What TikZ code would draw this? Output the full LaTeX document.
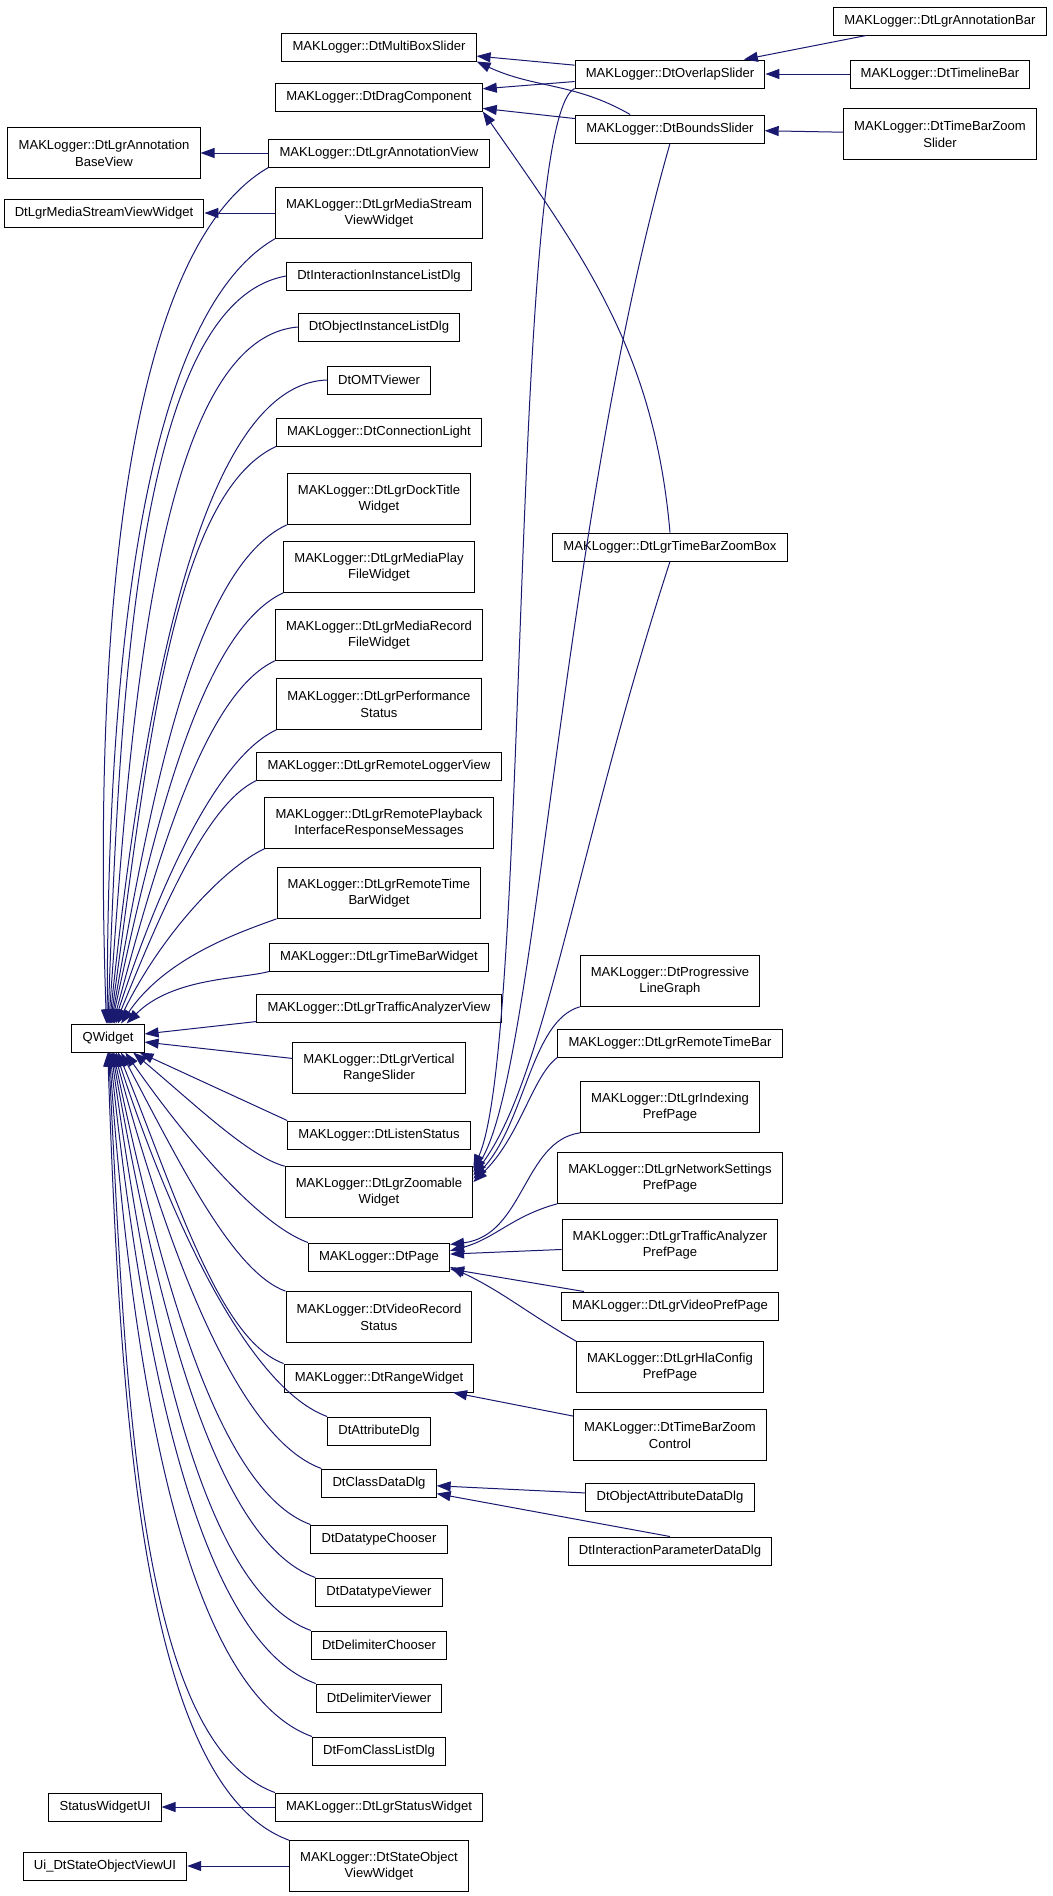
\documentclass[tikz,border=0pt]{standalone}
\usepackage{fontspec}
\setmainfont{Liberation Sans}
\usepackage{tikz}
\usetikzlibrary{arrows.meta}
\definecolor{midblue}{HTML}{191970}
\tikzstyle{cls} = [draw=black, fill=white, rectangle, line width=0.75pt, inner xsep=8pt, inner ysep=2pt, minimum height=21pt, align=center, font=\fontsize{9.8pt}{12.5pt}\selectfont]
\tikzstyle{cls2} = [cls, minimum height=38pt]
\tikzstyle{inh} = [draw=midblue, line width=0.75pt, -{Triangle[length=10.5pt,width=7.5pt]}]
\tikzstyle{fan} = [out looseness=0.5, in looseness=1.1]

\begin{document}
\begin{tikzpicture}[x=0.75pt,y=-0.75pt]
                        \useasboundingbox (0,0) rectangle (1053,1896);

                        \node[cls2] (ABV) at (104,153) {MAKLogger::DtLgrAnnotation\\BaseView};
                        \node[cls] (MSVW) at (104,213) {DtLgrMediaStreamViewWidget};
                        \node[cls] (QW) at (108,1038) {QWidget};
                        \node[cls] (SWUI) at (105,1807) {StatusWidgetUI};
                        \node[cls] (UIDT) at (105,1866) {Ui\_DtStateObjectViewUI};

                        \node[cls] (MBS) at (379,47) {MAKLogger::DtMultiBoxSlider};
                        \node[cls] (DC) at (379,97) {MAKLogger::DtDragComponent};
                        \node[cls] (AV) at (379,153) {MAKLogger::DtLgrAnnotationView};
                        \node[cls2] (MSV) at (379,213) {MAKLogger::DtLgrMediaStream\\ViewWidget};
                        \node[cls] (IIL) at (379,276) {DtInteractionInstanceListDlg};
                        \node[cls] (OIL) at (379,327) {DtObjectInstanceListDlg};
                        \node[cls] (OMT) at (379,380) {DtOMTViewer};
                        \node[cls] (CL) at (379,432) {MAKLogger::DtConnectionLight};
                        \node[cls2] (DTW) at (379,499) {MAKLogger::DtLgrDockTitle\\Widget};
                        \node[cls2] (MPF) at (379,567) {MAKLogger::DtLgrMediaPlay\\FileWidget};
                        \node[cls2] (MRF) at (379,635) {MAKLogger::DtLgrMediaRecord\\FileWidget};
                        \node[cls2] (PS) at (379,704) {MAKLogger::DtLgrPerformance\\Status};
                        \node[cls] (RLV) at (379,766) {MAKLogger::DtLgrRemoteLoggerView};
                        \node[cls2] (RPI) at (379,823) {MAKLogger::DtLgrRemotePlayback\\InterfaceResponseMessages};
                        \node[cls2] (RTBW) at (379,893) {MAKLogger::DtLgrRemoteTime\\BarWidget};
                        \node[cls] (TBW) at (379,957) {MAKLogger::DtLgrTimeBarWidget};
                        \node[cls] (TAV) at (379,1008) {MAKLogger::DtLgrTrafficAnalyzerView};
                        \node[cls2] (VRS) at (379,1068) {MAKLogger::DtLgrVertical\\RangeSlider};
                        \node[cls] (LS) at (379,1135) {MAKLogger::DtListenStatus};
                        \node[cls2] (ZW) at (379,1192) {MAKLogger::DtLgrZoomable\\Widget};
                        \node[cls] (PG) at (379,1257) {MAKLogger::DtPage};
                        \node[cls2] (VRC) at (379,1317) {MAKLogger::DtVideoRecord\\Status};
                        \node[cls] (RW) at (379,1378) {MAKLogger::DtRangeWidget};
                        \node[cls] (AD) at (379,1431) {DtAttributeDlg};
                        \node[cls] (CDD) at (379,1483) {DtClassDataDlg};
                        \node[cls] (DTC) at (379,1539) {DtDatatypeChooser};
                        \node[cls] (DTV) at (379,1592) {DtDatatypeViewer};
                        \node[cls] (DLC) at (379,1645) {DtDelimiterChooser};
                        \node[cls] (DLV) at (379,1698) {DtDelimiterViewer};
                        \node[cls] (FCL) at (379,1751) {DtFomClassListDlg};
                        \node[cls] (SW) at (379,1807) {MAKLogger::DtLgrStatusWidget};
                        \node[cls2] (SOV) at (379,1866) {MAKLogger::DtStateObject\\ViewWidget};

                        \node[cls] (OS) at (670,74) {MAKLogger::DtOverlapSlider};
                        \node[cls] (BS) at (670,129) {MAKLogger::DtBoundsSlider};
                        \node[cls] (TBZB) at (670,547) {MAKLogger::DtLgrTimeBarZoomBox};
                        \node[cls2] (PLG) at (670,981) {MAKLogger::DtProgressive\\LineGraph};
                        \node[cls] (RTB) at (670,1043) {MAKLogger::DtLgrRemoteTimeBar};
                        \node[cls2] (IPP) at (670,1107) {MAKLogger::DtLgrIndexing\\PrefPage};
                        \node[cls2] (NSP) at (670,1178) {MAKLogger::DtLgrNetworkSettings\\PrefPage};
                        \node[cls2] (TAP) at (670,1245) {MAKLogger::DtLgrTrafficAnalyzer\\PrefPage};
                        \node[cls] (VPP) at (670,1306) {MAKLogger::DtLgrVideoPrefPage};
                        \node[cls2] (HCP) at (670,1367) {MAKLogger::DtLgrHlaConfig\\PrefPage};
                        \node[cls2] (TBZC) at (670,1435) {MAKLogger::DtTimeBarZoom\\Control};
                        \node[cls] (OAD) at (670,1497) {DtObjectAttributeDataDlg};
                        \node[cls] (IPD) at (670,1551) {DtInteractionParameterDataDlg};

                        \node[cls] (AB) at (940,21) {MAKLogger::DtLgrAnnotationBar};
                        \node[cls] (TLB) at (940,74) {MAKLogger::DtTimelineBar};
                        \node[cls2] (TBZS) at (940,134) {MAKLogger::DtTimeBarZoom\\Slider};

                        \draw[inh] (AB) -- (OS);
                        \draw[inh] (TLB) -- (OS);
                        \draw[inh] (TBZS) -- (BS);
                        \draw[inh] (OS) -- (MBS);
                        \draw[inh] (OS) -- (DC);
                        \draw[inh] (BS) -- (DC);
                        \draw[inh] (BS.160) to[out=150, in=-25] (MBS.south east);
                        \draw[inh] (TBZB.north) to[out=95, in=-55] (DC.south east);

                        \draw[inh] (OS.south west) to[out=206, in=66, out distance=54pt, in distance=104pt] (ZW.14);
                        \draw[inh] (BS.south) to[out=254, in=57, out distance=294pt, in distance=86pt] (ZW.12);
                        \draw[inh] (TBZB.south) to[out=252, in=53, out distance=228pt, in distance=90pt] (ZW.10);
                        \draw[inh] (PLG.south west) to[out=196, in=47, out distance=38pt, in distance=57pt] (ZW.8);
                        \draw[inh] (RTB.south west) to[out=216, in=44, out distance=23pt, in distance=49pt] (ZW.6);

                        \draw[inh] (IPP.south west) to[out=188, in=7, out distance=43pt, in distance=56pt] (PG.10);
                        \draw[inh] (NSP.south west) to[out=195, in=15] (PG.5);
                        \draw[inh] (TAP) -- (PG);
                        \draw[inh] (VPP) -- (PG);
                        \draw[inh] (HCP.north west) to[out=150, in=-25] (PG.-8);
                        \draw[inh] (TBZC) -- (RW);
                        \draw[inh] (OAD) -- (CDD);
                        \draw[inh] (IPD.north) -- (CDD);

                        \draw[inh] (AV) -- (ABV);
                        \draw[inh] (MSV) -- (MSVW);
                        \draw[inh] (SW) -- (SWUI);
                        \draw[inh] (SOV) -- (UIDT);

                        \draw[inh] (AV.south west) to[fan, out=210, in=92] (QW.96);
                        \draw[inh] (MSV.south west) to[fan, out=210, in=90] (QW.93);
                        \draw[inh] (IIL.west) to[fan, out=190, in=88] (QW.90);
                        \draw[inh] (OIL.west) to[fan, out=185, in=86] (QW.87);
                        \draw[inh] (OMT.west) to[fan, out=182, in=84] (QW.84);
                        \draw[inh] (CL.south west) to[fan, out=205, in=82] (QW.81);
                        \draw[inh] (DTW.south west) to[fan, out=205, in=80] (QW.78);
                        \draw[inh] (MPF.south west) to[fan, out=205, in=78] (QW.75);
                        \draw[inh] (MRF.south west) to[fan, out=205, in=75] (QW.71);
                        \draw[inh] (PS.south west) to[fan, out=205, in=72] (QW.67);
                        \draw[inh] (RLV.south west) to[fan, out=205, in=68] (QW.62);
                        \draw[inh] (RPI.south west) to[fan, out=205, in=64] (QW.56);
                        \draw[inh] (RTBW.south west) to[fan, out=200, in=56] (QW.48);
                        \draw[inh] (TBW.south west) to[fan, out=195, in=45] (QW.38);
                        \draw[inh] (TAV) -- (QW);
                        \draw[inh] (VRS) -- (QW);
                        \draw[inh] (LS.north west) -- (QW);
                        \draw[inh] (ZW.north west) to[fan, out=165, in=-40] (QW.-30);
                        \draw[inh] (PG.north west) to[fan, out=160, in=-55] (QW.-40);
                        \draw[inh] (VRC.north west) to[fan, out=160, in=-62] (QW.-48);
                        \draw[inh] (RW.north west) to[fan, out=160, in=-68] (QW.-55);
                        \draw[inh] (AD.north west) to[fan, out=160, in=-72] (QW.-61);
                        \draw[inh] (CDD.north west) to[fan, out=160, in=-75] (QW.-66);
                        \draw[inh] (DTC.north west) to[fan, out=160, in=-78] (QW.-70);
                        \draw[inh] (DTV.north west) to[fan, out=160, in=-80] (QW.-74);
                        \draw[inh] (DLC.north west) to[fan, out=160, in=-82] (QW.-78);
                        \draw[inh] (DLV.north west) to[fan, out=160, in=-84] (QW.-82);
                        \draw[inh] (FCL.north west) to[fan, out=160, in=-86] (QW.-85);
                        \draw[inh] (SW.north west) to[fan, out=160, in=-87] (QW.-88);
                        \draw[inh] (SOV.north west) to[fan, out=160, in=-88] (QW.-91);
                    \end{tikzpicture}
\end{document}
